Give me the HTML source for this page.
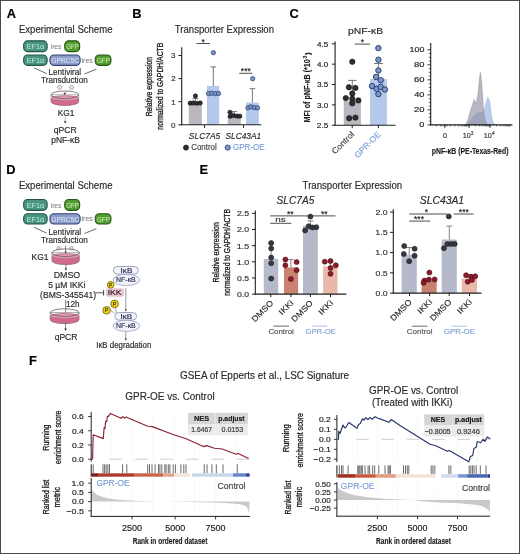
<!DOCTYPE html>
<html><head><meta charset="utf-8"><title>Figure</title>
<style>
html,body{margin:0;padding:0;background:#fff;}
body{width:520px;height:554px;overflow:hidden;}
svg{display:block;font-family:"Liberation Sans", sans-serif;}
svg{will-change:transform;}
</style></head>
<body>
<svg width="520" height="554" viewBox="0 0 520 554">
<rect width="520" height="554" fill="#fff"/>
<rect x="0.50" y="0.50" width="519.00" height="553.00" fill="none" stroke="#4a4a4a" stroke-width="1"/>
<text x="6.68" y="17.70" font-size="12.8" fill="#000" font-weight="bold" stroke="#000" stroke-width="0.16">A</text>
<text x="18.93" y="32.50" font-size="10.2" fill="#2a2a2a" textLength="93.57" lengthAdjust="spacingAndGlyphs" stroke="#2a2a2a" stroke-width="0.16">Experimental Scheme</text>
<rect x="23.65" y="40.85" width="23.50" height="10.80" fill="#4a9482" stroke="#23544a" stroke-width="1.1" rx="4.0"/>
<text x="35.51" y="49.30" font-size="7.5" fill="#bdeedb" text-anchor="middle" textLength="17.58" lengthAdjust="spacingAndGlyphs" stroke="none">EF1α</text>
<text x="50.78" y="48.80" font-size="7.4" fill="#707070" textLength="10.44" lengthAdjust="spacingAndGlyphs" stroke="none">ires</text>
<rect x="64.75" y="40.85" width="14.90" height="10.80" fill="#519c2e" stroke="#2a5418" stroke-width="1.1" rx="4.0"/>
<text x="72.51" y="49.30" font-size="7.5" fill="#d8f4c0" text-anchor="middle" textLength="12.63" lengthAdjust="spacingAndGlyphs" stroke="none">GFP</text>
<rect x="23.65" y="55.05" width="23.50" height="10.30" fill="#4a9482" stroke="#23544a" stroke-width="1.1" rx="4.0"/>
<text x="35.51" y="63.00" font-size="7.5" fill="#bdeedb" text-anchor="middle" textLength="17.58" lengthAdjust="spacingAndGlyphs" stroke="none">EF1α</text>
<rect x="49.95" y="55.05" width="30.20" height="10.30" fill="#8b9bc9" stroke="#34437a" stroke-width="1.1" rx="4.0"/>
<text x="65.31" y="63.00" font-size="7.5" fill="#e6ebfa" text-anchor="middle" textLength="28.19" lengthAdjust="spacingAndGlyphs" stroke="none">GPRC5C</text>
<text x="81.55" y="62.50" font-size="7.4" fill="#707070" textLength="11.19" lengthAdjust="spacingAndGlyphs" stroke="none">ires</text>
<rect x="95.25" y="55.05" width="15.70" height="10.30" fill="#519c2e" stroke="#2a5418" stroke-width="1.1" rx="4.0"/>
<text x="103.41" y="63.00" font-size="7.5" fill="#d8f4c0" text-anchor="middle" textLength="12.84" lengthAdjust="spacingAndGlyphs" stroke="none">GFP</text>
<line x1="34.20" y1="67.90" x2="46.60" y2="73.60" stroke="#444" stroke-width="0.8"/>
<line x1="84.40" y1="74.00" x2="96.40" y2="69.20" stroke="#444" stroke-width="0.8"/>
<text x="48.55" y="75.00" font-size="8.4" fill="#2a2a2a" textLength="32.58" lengthAdjust="spacingAndGlyphs" stroke="#2a2a2a" stroke-width="0.16">Lentiviral</text>
<text x="41.04" y="83.30" font-size="8.4" fill="#2a2a2a" textLength="46.68" lengthAdjust="spacingAndGlyphs" stroke="#2a2a2a" stroke-width="0.16">Transduction</text>
<circle cx="59.60" cy="87.20" r="1.9" fill="#f4e6ec" stroke="#9a8a92" stroke-width="0.6"/>
<line x1="61.50" y1="87.20" x2="62.60" y2="87.20" stroke="#9a8a92" stroke-width="0.5"/>
<line x1="60.55" y1="88.85" x2="61.10" y2="89.80" stroke="#9a8a92" stroke-width="0.5"/>
<line x1="58.65" y1="88.85" x2="58.10" y2="89.80" stroke="#9a8a92" stroke-width="0.5"/>
<line x1="57.70" y1="87.20" x2="56.60" y2="87.20" stroke="#9a8a92" stroke-width="0.5"/>
<line x1="58.65" y1="85.55" x2="58.10" y2="84.60" stroke="#9a8a92" stroke-width="0.5"/>
<line x1="60.55" y1="85.55" x2="61.10" y2="84.60" stroke="#9a8a92" stroke-width="0.5"/>
<circle cx="71.60" cy="87.40" r="1.9" fill="#f4e6ec" stroke="#9a8a92" stroke-width="0.6"/>
<line x1="73.50" y1="87.40" x2="74.60" y2="87.40" stroke="#9a8a92" stroke-width="0.5"/>
<line x1="72.55" y1="89.05" x2="73.10" y2="90.00" stroke="#9a8a92" stroke-width="0.5"/>
<line x1="70.65" y1="89.05" x2="70.10" y2="90.00" stroke="#9a8a92" stroke-width="0.5"/>
<line x1="69.70" y1="87.40" x2="68.60" y2="87.40" stroke="#9a8a92" stroke-width="0.5"/>
<line x1="70.65" y1="85.75" x2="70.10" y2="84.80" stroke="#9a8a92" stroke-width="0.5"/>
<line x1="72.55" y1="85.75" x2="73.10" y2="84.80" stroke="#9a8a92" stroke-width="0.5"/>
<path d="M51.10,94.80 L51.10,101.70 A13.80,3.80 0 0 0 78.70,101.70 L78.70,94.80 Z" fill="#ffffff" stroke="#707070" stroke-width="0.6"/>
<path d="M51.40,98.20 L51.40,101.70 A13.50,3.60 0 0 0 78.40,101.70 L78.40,98.20 A13.50,2.40 0 0 0 51.40,98.20 Z" fill="#cf6b8b" stroke="#a8486a" stroke-width="0.5"/>
<ellipse cx="64.90" cy="98.20" rx="13.30" ry="2.20" fill="#e3a0b6" stroke="#b86080" stroke-width="0.4"/>
<ellipse cx="64.90" cy="94.80" rx="13.80" ry="3.80" fill="none" stroke="#5a5a5a" stroke-width="0.75"/>
<circle cx="64.60" cy="93.60" r="0.9" fill="#111"/>
<line x1="64.60" y1="93.60" x2="67.50" y2="91.20" stroke="#666" stroke-width="0.5"/>
<text x="57.73" y="115.80" font-size="8.4" fill="#2a2a2a" textLength="16.78" lengthAdjust="spacingAndGlyphs" stroke="#2a2a2a" stroke-width="0.16">KG1</text>
<line x1="65.20" y1="117.30" x2="65.20" y2="121.50" stroke="#777" stroke-width="0.6"/>
<path d="M63.9,121.3 L66.5,121.3 L65.2,123.4 Z" fill="#222"/>
<text x="53.75" y="133.20" font-size="8.4" fill="#2a2a2a" textLength="23.03" lengthAdjust="spacingAndGlyphs" stroke="#2a2a2a" stroke-width="0.16">qPCR</text>
<text x="51.27" y="143.30" font-size="8.4" fill="#2a2a2a" textLength="28.77" lengthAdjust="spacingAndGlyphs" stroke="#2a2a2a" stroke-width="0.16">pNF-κB</text>
<text x="132.17" y="17.70" font-size="12.8" fill="#000" font-weight="bold" stroke="#000" stroke-width="0.16">B</text>
<text x="174.81" y="32.60" font-size="10.2" fill="#2a2a2a" textLength="99.20" lengthAdjust="spacingAndGlyphs" stroke="#2a2a2a" stroke-width="0.16">Transporter Expression</text>
<rect x="188.80" y="103.09" width="13.00" height="21.71" fill="#bab7bf"/>
<rect x="207.00" y="85.99" width="12.20" height="38.81" fill="#b4c8ec"/>
<rect x="227.70" y="115.56" width="13.10" height="9.24" fill="#bab7bf"/>
<rect x="246.00" y="102.62" width="12.80" height="22.18" fill="#b4c8ec"/>
<line x1="213.30" y1="85.99" x2="213.30" y2="66.90" stroke="#555" stroke-width="0.8"/>
<line x1="210.40" y1="66.90" x2="216.20" y2="66.90" stroke="#555" stroke-width="0.8"/>
<line x1="252.40" y1="102.62" x2="252.40" y2="88.70" stroke="#555" stroke-width="0.8"/>
<line x1="249.50" y1="88.70" x2="255.30" y2="88.70" stroke="#555" stroke-width="0.8"/>
<line x1="195.40" y1="103.09" x2="195.40" y2="98.60" stroke="#555" stroke-width="0.8"/>
<line x1="192.50" y1="98.60" x2="198.30" y2="98.60" stroke="#555" stroke-width="0.8"/>
<line x1="234.20" y1="115.56" x2="234.20" y2="111.60" stroke="#555" stroke-width="0.8"/>
<line x1="231.30" y1="111.60" x2="237.10" y2="111.60" stroke="#555" stroke-width="0.8"/>
<line x1="181.70" y1="47.30" x2="181.70" y2="125.20" stroke="#1e1e1e" stroke-width="1.1"/>
<line x1="181.20" y1="124.80" x2="261.30" y2="124.80" stroke="#1e1e1e" stroke-width="1.1"/>
<line x1="178.40" y1="124.80" x2="181.70" y2="124.80" stroke="#1e1e1e" stroke-width="1"/>
<text x="175.51" y="127.65" font-size="8.0" fill="#333" text-anchor="end" stroke="#333" stroke-width="0.16">0</text>
<line x1="178.40" y1="101.70" x2="181.70" y2="101.70" stroke="#1e1e1e" stroke-width="1"/>
<text x="175.59" y="104.55" font-size="8.0" fill="#333" text-anchor="end" stroke="#333" stroke-width="0.16">1</text>
<line x1="178.40" y1="78.60" x2="181.70" y2="78.60" stroke="#1e1e1e" stroke-width="1"/>
<text x="175.59" y="81.45" font-size="8.0" fill="#333" text-anchor="end" stroke="#333" stroke-width="0.16">2</text>
<line x1="178.40" y1="55.50" x2="181.70" y2="55.50" stroke="#1e1e1e" stroke-width="1"/>
<text x="175.55" y="58.35" font-size="8.0" fill="#333" text-anchor="end" stroke="#333" stroke-width="0.16">3</text>
<line x1="204.60" y1="124.80" x2="204.60" y2="127.80" stroke="#1e1e1e" stroke-width="1"/>
<line x1="243.50" y1="124.80" x2="243.50" y2="127.80" stroke="#1e1e1e" stroke-width="1"/>
<circle cx="195.40" cy="96.00" r="2.15" fill="#2e2e34" stroke="#111" stroke-width="0.6"/>
<circle cx="190.20" cy="103.20" r="2.15" fill="#2e2e34" stroke="#111" stroke-width="0.6"/>
<circle cx="193.30" cy="103.00" r="2.15" fill="#2e2e34" stroke="#111" stroke-width="0.6"/>
<circle cx="196.80" cy="103.30" r="2.15" fill="#2e2e34" stroke="#111" stroke-width="0.6"/>
<circle cx="200.20" cy="103.00" r="2.15" fill="#2e2e34" stroke="#111" stroke-width="0.6"/>
<circle cx="213.40" cy="52.70" r="2.15" fill="#7d97c6" stroke="#2a4178" stroke-width="0.8"/>
<circle cx="208.50" cy="93.60" r="2.15" fill="#7d97c6" stroke="#2a4178" stroke-width="0.8"/>
<circle cx="211.70" cy="93.30" r="2.15" fill="#7d97c6" stroke="#2a4178" stroke-width="0.8"/>
<circle cx="215.20" cy="93.60" r="2.15" fill="#7d97c6" stroke="#2a4178" stroke-width="0.8"/>
<circle cx="218.50" cy="93.50" r="2.15" fill="#7d97c6" stroke="#2a4178" stroke-width="0.8"/>
<circle cx="230.00" cy="112.30" r="2.15" fill="#2e2e34" stroke="#111" stroke-width="0.6"/>
<circle cx="230.20" cy="116.30" r="2.15" fill="#2e2e34" stroke="#111" stroke-width="0.6"/>
<circle cx="233.60" cy="115.60" r="2.15" fill="#2e2e34" stroke="#111" stroke-width="0.6"/>
<circle cx="237.00" cy="116.10" r="2.15" fill="#2e2e34" stroke="#111" stroke-width="0.6"/>
<circle cx="239.80" cy="116.20" r="2.15" fill="#2e2e34" stroke="#111" stroke-width="0.6"/>
<circle cx="252.70" cy="78.70" r="2.15" fill="#7d97c6" stroke="#2a4178" stroke-width="0.8"/>
<circle cx="247.90" cy="107.80" r="2.15" fill="#7d97c6" stroke="#2a4178" stroke-width="0.8"/>
<circle cx="250.90" cy="106.80" r="2.15" fill="#7d97c6" stroke="#2a4178" stroke-width="0.8"/>
<circle cx="254.20" cy="107.60" r="2.15" fill="#7d97c6" stroke="#2a4178" stroke-width="0.8"/>
<circle cx="257.50" cy="107.80" r="2.15" fill="#7d97c6" stroke="#2a4178" stroke-width="0.8"/>
<line x1="196.50" y1="43.50" x2="210.00" y2="43.50" stroke="#2e2e2e" stroke-width="0.85"/>
<text x="203.20" y="44.60" font-size="8.5" fill="#222" text-anchor="middle" stroke="#222" stroke-width="0.16">*</text>
<line x1="239.20" y1="73.30" x2="252.30" y2="73.30" stroke="#2e2e2e" stroke-width="0.85"/>
<text x="245.80" y="74.40" font-size="8.5" fill="#222" text-anchor="middle" stroke="#222" stroke-width="0.16">***</text>
<text x="152.40" y="116.35" font-size="8.5" fill="#1a1a1a" textLength="59.48" lengthAdjust="spacingAndGlyphs" transform="rotate(-90 152.40 116.35)" stroke="#1a1a1a" stroke-width="0.3">Relative expression</text>
<text x="163.40" y="129.64" font-size="8.5" fill="#1a1a1a" textLength="86.90" lengthAdjust="spacingAndGlyphs" transform="rotate(-90 163.40 129.64)" stroke="#1a1a1a" stroke-width="0.3">normalized to GAPDH/ACTB</text>
<text x="188.87" y="138.80" font-size="8.5" fill="#2a2a2a" font-style="italic" textLength="31.31" lengthAdjust="spacingAndGlyphs" stroke="#2a2a2a" stroke-width="0.16">SLC7A5</text>
<text x="225.57" y="138.80" font-size="8.5" fill="#2a2a2a" font-style="italic" textLength="35.52" lengthAdjust="spacingAndGlyphs" stroke="#2a2a2a" stroke-width="0.16">SLC43A1</text>
<circle cx="186.00" cy="147.60" r="2.6" fill="#2e2e34" stroke="#111" stroke-width="0.6"/>
<text x="191.20" y="150.40" font-size="8.2" fill="#444" textLength="25.50" lengthAdjust="spacingAndGlyphs" stroke="#444" stroke-width="0.16">Control</text>
<circle cx="227.70" cy="147.60" r="2.6" fill="#7d97c6" stroke="#2a4178" stroke-width="0.8"/>
<text x="233.10" y="150.40" font-size="8.2" fill="#7ea0d6" textLength="31.44" lengthAdjust="spacingAndGlyphs" stroke="#7ea0d6" stroke-width="0.16">GPR-OE</text>
<text x="289.49" y="17.70" font-size="12.8" fill="#000" font-weight="bold" stroke="#000" stroke-width="0.16">C</text>
<text x="348.05" y="33.50" font-size="8.7" fill="#2a2a2a" textLength="35.08" lengthAdjust="spacingAndGlyphs" stroke="#2a2a2a" stroke-width="0.16">pNF-κB</text>
<rect x="343.80" y="100.70" width="17.10" height="24.50" fill="#bab7bf"/>
<rect x="370.10" y="78.90" width="16.80" height="46.30" fill="#b4c8ec"/>
<line x1="352.30" y1="100.70" x2="352.30" y2="80.40" stroke="#555" stroke-width="0.8"/>
<line x1="348.00" y1="80.40" x2="356.60" y2="80.40" stroke="#555" stroke-width="0.8"/>
<line x1="378.40" y1="78.90" x2="378.40" y2="63.50" stroke="#555" stroke-width="0.8"/>
<line x1="374.00" y1="63.50" x2="383.00" y2="63.50" stroke="#555" stroke-width="0.8"/>
<circle cx="352.30" cy="61.80" r="2.7" fill="#2e2e34" stroke="#111" stroke-width="0.6"/>
<circle cx="348.90" cy="87.30" r="2.7" fill="#2e2e34" stroke="#111" stroke-width="0.6"/>
<circle cx="355.40" cy="87.90" r="2.7" fill="#2e2e34" stroke="#111" stroke-width="0.6"/>
<circle cx="352.30" cy="93.50" r="2.7" fill="#2e2e34" stroke="#111" stroke-width="0.6"/>
<circle cx="345.80" cy="98.10" r="2.7" fill="#2e2e34" stroke="#111" stroke-width="0.6"/>
<circle cx="352.30" cy="98.80" r="2.7" fill="#2e2e34" stroke="#111" stroke-width="0.6"/>
<circle cx="358.40" cy="100.40" r="2.7" fill="#2e2e34" stroke="#111" stroke-width="0.6"/>
<circle cx="352.30" cy="103.30" r="2.7" fill="#2e2e34" stroke="#111" stroke-width="0.6"/>
<circle cx="349.20" cy="118.30" r="2.7" fill="#2e2e34" stroke="#111" stroke-width="0.6"/>
<circle cx="355.40" cy="117.60" r="2.7" fill="#2e2e34" stroke="#111" stroke-width="0.6"/>
<circle cx="378.40" cy="48.10" r="2.7" fill="#7d97c6" stroke="#2a4178" stroke-width="1.0"/>
<circle cx="378.40" cy="59.70" r="2.7" fill="#7d97c6" stroke="#2a4178" stroke-width="1.0"/>
<circle cx="378.40" cy="70.40" r="2.7" fill="#7d97c6" stroke="#2a4178" stroke-width="1.0"/>
<circle cx="376.10" cy="76.90" r="2.7" fill="#7d97c6" stroke="#2a4178" stroke-width="1.0"/>
<circle cx="380.70" cy="80.20" r="2.7" fill="#7d97c6" stroke="#2a4178" stroke-width="1.0"/>
<circle cx="372.00" cy="86.10" r="2.7" fill="#7d97c6" stroke="#2a4178" stroke-width="1.0"/>
<circle cx="376.60" cy="88.80" r="2.7" fill="#7d97c6" stroke="#2a4178" stroke-width="1.0"/>
<circle cx="380.70" cy="86.90" r="2.7" fill="#7d97c6" stroke="#2a4178" stroke-width="1.0"/>
<circle cx="384.90" cy="89.50" r="2.7" fill="#7d97c6" stroke="#2a4178" stroke-width="1.0"/>
<circle cx="378.40" cy="94.10" r="2.7" fill="#7d97c6" stroke="#2a4178" stroke-width="1.0"/>
<line x1="335.10" y1="41.50" x2="335.10" y2="125.60" stroke="#1e1e1e" stroke-width="1.1"/>
<line x1="334.60" y1="125.20" x2="395.60" y2="125.20" stroke="#1e1e1e" stroke-width="1.1"/>
<line x1="331.90" y1="125.20" x2="335.10" y2="125.20" stroke="#1e1e1e" stroke-width="1"/>
<text x="328.33" y="127.90" font-size="7.6" fill="#222" text-anchor="end" textLength="11.44" lengthAdjust="spacingAndGlyphs" stroke="#222" stroke-width="0.16">2.5</text>
<line x1="331.90" y1="104.85" x2="335.10" y2="104.85" stroke="#1e1e1e" stroke-width="1"/>
<text x="328.31" y="107.55" font-size="7.6" fill="#222" text-anchor="end" textLength="11.31" lengthAdjust="spacingAndGlyphs" stroke="#222" stroke-width="0.16">3.0</text>
<line x1="331.90" y1="84.50" x2="335.10" y2="84.50" stroke="#1e1e1e" stroke-width="1"/>
<text x="328.33" y="87.20" font-size="7.6" fill="#222" text-anchor="end" textLength="11.33" lengthAdjust="spacingAndGlyphs" stroke="#222" stroke-width="0.16">3.5</text>
<line x1="331.90" y1="64.15" x2="335.10" y2="64.15" stroke="#1e1e1e" stroke-width="1"/>
<text x="328.30" y="66.85" font-size="7.6" fill="#222" text-anchor="end" textLength="11.18" lengthAdjust="spacingAndGlyphs" stroke="#222" stroke-width="0.16">4.0</text>
<line x1="331.90" y1="43.80" x2="335.10" y2="43.80" stroke="#1e1e1e" stroke-width="1"/>
<text x="328.32" y="46.50" font-size="7.6" fill="#222" text-anchor="end" textLength="11.21" lengthAdjust="spacingAndGlyphs" stroke="#222" stroke-width="0.16">4.5</text>
<line x1="352.20" y1="125.20" x2="352.20" y2="128.20" stroke="#1e1e1e" stroke-width="1"/>
<line x1="378.40" y1="125.20" x2="378.40" y2="128.20" stroke="#1e1e1e" stroke-width="1"/>
<line x1="354.60" y1="44.10" x2="370.00" y2="44.10" stroke="#2e2e2e" stroke-width="0.85"/>
<text x="362.30" y="45.20" font-size="8.5" fill="#222" text-anchor="middle" stroke="#222" stroke-width="0.16">*</text>
<text x="310.20" y="122.46" font-size="9.3" fill="#1e1e1e" font-weight="bold" textLength="63.23" lengthAdjust="spacingAndGlyphs" stroke="#1e1e1e" stroke-width="0.16" transform="rotate(-90 310.20 122.46)">MFI of pNF-κB (*10</text>
<text x="307.20" y="58.41" font-size="5.0" fill="#1e1e1e" font-weight="bold" stroke="#1e1e1e" stroke-width="0.16" transform="rotate(-90 307.20 58.41)">3</text>
<text x="309.80" y="55.00" font-size="7.8" fill="#1e1e1e" font-weight="bold" stroke="#1e1e1e" stroke-width="0.16" transform="rotate(-90 309.80 55.00)">)</text>
<text x="354.89" y="134.81" font-size="8.2" fill="#444" text-anchor="end" textLength="27.99" lengthAdjust="spacingAndGlyphs" stroke="#444" stroke-width="0.16" transform="rotate(-45 354.89 134.81)">Control</text>
<text x="381.25" y="134.95" font-size="8.2" fill="#7ea0d6" text-anchor="end" textLength="33.28" lengthAdjust="spacingAndGlyphs" stroke="#7ea0d6" stroke-width="0.16" transform="rotate(-45 381.25 134.95)">GPR-OE</text>
<path d="M466.50,124.90 L470.00,121.00 L474.00,115.50 L478.00,113.00 L482.00,112.00 L484.20,110.00 L485.80,103.50 L487.90,97.00 L489.80,102.00 L490.60,108.00 L491.60,116.00 L493.20,122.50 L495.00,124.90 Z" fill="#b9cdea" stroke="#9fb5da" stroke-width="0.5"/>
<path d="M465.50,124.90 L467.50,121.00 L470.00,112.40 L472.60,104.30 L474.30,99.50 L476.20,104.50 L478.30,92.00 L479.50,79.00 L480.40,72.50 L481.60,82.00 L482.60,96.00 L483.30,107.50 L484.40,116.50 L486.00,122.50 L488.00,124.90 Z" fill="#908aa0" stroke="#8a8498" stroke-width="0.5" fill-opacity="0.62"/>
<line x1="430.70" y1="43.10" x2="430.70" y2="125.40" stroke="#1e1e1e" stroke-width="1.1"/>
<line x1="430.20" y1="124.90" x2="512.40" y2="124.90" stroke="#1e1e1e" stroke-width="1.1"/>
<line x1="427.50" y1="124.90" x2="430.70" y2="124.90" stroke="#1e1e1e" stroke-width="0.9"/>
<text x="424.35" y="127.45" font-size="7.3" fill="#222" text-anchor="end" textLength="5.10" lengthAdjust="spacingAndGlyphs" stroke="#222" stroke-width="0.16">0</text>
<line x1="427.50" y1="109.88" x2="430.70" y2="109.88" stroke="#1e1e1e" stroke-width="0.9"/>
<text x="424.37" y="112.43" font-size="7.3" fill="#222" text-anchor="end" textLength="10.44" lengthAdjust="spacingAndGlyphs" stroke="#222" stroke-width="0.16">20</text>
<line x1="427.50" y1="94.86" x2="430.70" y2="94.86" stroke="#1e1e1e" stroke-width="0.9"/>
<text x="424.36" y="97.41" font-size="7.3" fill="#222" text-anchor="end" textLength="10.17" lengthAdjust="spacingAndGlyphs" stroke="#222" stroke-width="0.16">40</text>
<line x1="427.50" y1="79.84" x2="430.70" y2="79.84" stroke="#1e1e1e" stroke-width="0.9"/>
<text x="424.37" y="82.39" font-size="7.3" fill="#222" text-anchor="end" textLength="10.44" lengthAdjust="spacingAndGlyphs" stroke="#222" stroke-width="0.16">60</text>
<line x1="427.50" y1="64.82" x2="430.70" y2="64.82" stroke="#1e1e1e" stroke-width="0.9"/>
<text x="424.37" y="67.37" font-size="7.3" fill="#222" text-anchor="end" textLength="10.37" lengthAdjust="spacingAndGlyphs" stroke="#222" stroke-width="0.16">80</text>
<line x1="427.50" y1="49.80" x2="430.70" y2="49.80" stroke="#1e1e1e" stroke-width="0.9"/>
<text x="424.34" y="52.35" font-size="7.3" fill="#222" text-anchor="end" textLength="14.81" lengthAdjust="spacingAndGlyphs" stroke="#222" stroke-width="0.16">100</text>
<line x1="428.80" y1="121.15" x2="430.70" y2="121.15" stroke="#1e1e1e" stroke-width="0.7"/>
<line x1="428.80" y1="117.39" x2="430.70" y2="117.39" stroke="#1e1e1e" stroke-width="0.7"/>
<line x1="428.80" y1="113.64" x2="430.70" y2="113.64" stroke="#1e1e1e" stroke-width="0.7"/>
<line x1="428.80" y1="106.12" x2="430.70" y2="106.12" stroke="#1e1e1e" stroke-width="0.7"/>
<line x1="428.80" y1="102.37" x2="430.70" y2="102.37" stroke="#1e1e1e" stroke-width="0.7"/>
<line x1="428.80" y1="98.62" x2="430.70" y2="98.62" stroke="#1e1e1e" stroke-width="0.7"/>
<line x1="428.80" y1="91.11" x2="430.70" y2="91.11" stroke="#1e1e1e" stroke-width="0.7"/>
<line x1="428.80" y1="87.35" x2="430.70" y2="87.35" stroke="#1e1e1e" stroke-width="0.7"/>
<line x1="428.80" y1="83.59" x2="430.70" y2="83.59" stroke="#1e1e1e" stroke-width="0.7"/>
<line x1="428.80" y1="76.09" x2="430.70" y2="76.09" stroke="#1e1e1e" stroke-width="0.7"/>
<line x1="428.80" y1="72.33" x2="430.70" y2="72.33" stroke="#1e1e1e" stroke-width="0.7"/>
<line x1="428.80" y1="68.58" x2="430.70" y2="68.58" stroke="#1e1e1e" stroke-width="0.7"/>
<line x1="428.80" y1="61.07" x2="430.70" y2="61.07" stroke="#1e1e1e" stroke-width="0.7"/>
<line x1="428.80" y1="57.31" x2="430.70" y2="57.31" stroke="#1e1e1e" stroke-width="0.7"/>
<line x1="428.80" y1="53.56" x2="430.70" y2="53.56" stroke="#1e1e1e" stroke-width="0.7"/>
<line x1="436.50" y1="124.90" x2="436.50" y2="126.50" stroke="#1e1e1e" stroke-width="0.6"/>
<line x1="440.50" y1="124.90" x2="440.50" y2="126.50" stroke="#1e1e1e" stroke-width="0.6"/>
<line x1="443.00" y1="124.90" x2="443.00" y2="126.50" stroke="#1e1e1e" stroke-width="0.6"/>
<line x1="444.90" y1="124.90" x2="444.90" y2="126.50" stroke="#1e1e1e" stroke-width="0.6"/>
<line x1="447.00" y1="124.90" x2="447.00" y2="126.50" stroke="#1e1e1e" stroke-width="0.6"/>
<line x1="450.50" y1="124.90" x2="450.50" y2="126.50" stroke="#1e1e1e" stroke-width="0.6"/>
<line x1="455.00" y1="124.90" x2="455.00" y2="126.50" stroke="#1e1e1e" stroke-width="0.6"/>
<line x1="458.50" y1="124.90" x2="458.50" y2="126.50" stroke="#1e1e1e" stroke-width="0.6"/>
<line x1="461.00" y1="124.90" x2="461.00" y2="126.50" stroke="#1e1e1e" stroke-width="0.6"/>
<line x1="462.80" y1="124.90" x2="462.80" y2="126.50" stroke="#1e1e1e" stroke-width="0.6"/>
<line x1="464.30" y1="124.90" x2="464.30" y2="126.50" stroke="#1e1e1e" stroke-width="0.6"/>
<line x1="465.40" y1="124.90" x2="465.40" y2="126.50" stroke="#1e1e1e" stroke-width="0.6"/>
<line x1="466.30" y1="124.90" x2="466.30" y2="126.50" stroke="#1e1e1e" stroke-width="0.6"/>
<line x1="467.00" y1="124.90" x2="467.00" y2="126.50" stroke="#1e1e1e" stroke-width="0.6"/>
<line x1="469.00" y1="124.90" x2="469.00" y2="126.50" stroke="#1e1e1e" stroke-width="0.6"/>
<line x1="475.50" y1="124.90" x2="475.50" y2="126.50" stroke="#1e1e1e" stroke-width="0.6"/>
<line x1="479.30" y1="124.90" x2="479.30" y2="126.50" stroke="#1e1e1e" stroke-width="0.6"/>
<line x1="482.00" y1="124.90" x2="482.00" y2="126.50" stroke="#1e1e1e" stroke-width="0.6"/>
<line x1="484.00" y1="124.90" x2="484.00" y2="126.50" stroke="#1e1e1e" stroke-width="0.6"/>
<line x1="485.60" y1="124.90" x2="485.60" y2="126.50" stroke="#1e1e1e" stroke-width="0.6"/>
<line x1="486.90" y1="124.90" x2="486.90" y2="126.50" stroke="#1e1e1e" stroke-width="0.6"/>
<line x1="488.00" y1="124.90" x2="488.00" y2="126.50" stroke="#1e1e1e" stroke-width="0.6"/>
<line x1="489.00" y1="124.90" x2="489.00" y2="126.50" stroke="#1e1e1e" stroke-width="0.6"/>
<line x1="490.00" y1="124.90" x2="490.00" y2="126.50" stroke="#1e1e1e" stroke-width="0.6"/>
<line x1="496.50" y1="124.90" x2="496.50" y2="126.50" stroke="#1e1e1e" stroke-width="0.6"/>
<line x1="500.30" y1="124.90" x2="500.30" y2="126.50" stroke="#1e1e1e" stroke-width="0.6"/>
<line x1="503.00" y1="124.90" x2="503.00" y2="126.50" stroke="#1e1e1e" stroke-width="0.6"/>
<line x1="505.00" y1="124.90" x2="505.00" y2="126.50" stroke="#1e1e1e" stroke-width="0.6"/>
<line x1="506.60" y1="124.90" x2="506.60" y2="126.50" stroke="#1e1e1e" stroke-width="0.6"/>
<line x1="507.90" y1="124.90" x2="507.90" y2="126.50" stroke="#1e1e1e" stroke-width="0.6"/>
<line x1="509.00" y1="124.90" x2="509.00" y2="126.50" stroke="#1e1e1e" stroke-width="0.6"/>
<line x1="510.00" y1="124.90" x2="510.00" y2="126.50" stroke="#1e1e1e" stroke-width="0.6"/>
<line x1="444.90" y1="124.90" x2="444.90" y2="127.90" stroke="#1e1e1e" stroke-width="0.9"/>
<line x1="469.00" y1="124.90" x2="469.00" y2="127.90" stroke="#1e1e1e" stroke-width="0.9"/>
<line x1="490.00" y1="124.90" x2="490.00" y2="127.90" stroke="#1e1e1e" stroke-width="0.9"/>
<text x="444.90" y="138.30" font-size="7.2" fill="#333" text-anchor="middle" stroke="#333" stroke-width="0.16">0</text>
<text x="462.66" y="138.30" font-size="7.2" fill="#333" stroke="#333" stroke-width="0.16">10</text>
<text x="470.72" y="134.90" font-size="4.8" fill="#333" stroke="#333" stroke-width="0.16">3</text>
<text x="483.86" y="138.30" font-size="7.2" fill="#333" stroke="#333" stroke-width="0.16">10</text>
<text x="491.99" y="134.90" font-size="4.8" fill="#333" stroke="#333" stroke-width="0.16">4</text>
<text x="431.85" y="153.70" font-size="9.3" fill="#1e1e1e" font-weight="bold" textLength="76.58" lengthAdjust="spacingAndGlyphs" stroke="#1e1e1e" stroke-width="0.16">pNF-κB (PE-Texas-Red)</text>
<text x="6.17" y="173.80" font-size="12.8" fill="#000" font-weight="bold" stroke="#000" stroke-width="0.16">D</text>
<text x="18.93" y="189.10" font-size="10.2" fill="#2a2a2a" textLength="93.57" lengthAdjust="spacingAndGlyphs" stroke="#2a2a2a" stroke-width="0.16">Experimental Scheme</text>
<rect x="23.65" y="199.55" width="23.50" height="10.80" fill="#4a9482" stroke="#23544a" stroke-width="1.1" rx="4.0"/>
<text x="35.51" y="208.00" font-size="7.5" fill="#bdeedb" text-anchor="middle" textLength="17.58" lengthAdjust="spacingAndGlyphs" stroke="none">EF1α</text>
<text x="50.78" y="207.50" font-size="7.4" fill="#707070" textLength="10.44" lengthAdjust="spacingAndGlyphs" stroke="none">ires</text>
<rect x="64.75" y="199.55" width="14.90" height="10.80" fill="#519c2e" stroke="#2a5418" stroke-width="1.1" rx="4.0"/>
<text x="72.51" y="208.00" font-size="7.5" fill="#d8f4c0" text-anchor="middle" textLength="12.63" lengthAdjust="spacingAndGlyphs" stroke="none">GFP</text>
<rect x="23.65" y="213.75" width="23.50" height="10.30" fill="#4a9482" stroke="#23544a" stroke-width="1.1" rx="4.0"/>
<text x="35.51" y="221.70" font-size="7.5" fill="#bdeedb" text-anchor="middle" textLength="17.58" lengthAdjust="spacingAndGlyphs" stroke="none">EF1α</text>
<rect x="49.95" y="213.75" width="30.20" height="10.30" fill="#8b9bc9" stroke="#34437a" stroke-width="1.1" rx="4.0"/>
<text x="65.31" y="221.70" font-size="7.5" fill="#e6ebfa" text-anchor="middle" textLength="28.19" lengthAdjust="spacingAndGlyphs" stroke="none">GPRC5C</text>
<text x="81.55" y="221.20" font-size="7.4" fill="#707070" textLength="11.19" lengthAdjust="spacingAndGlyphs" stroke="none">ires</text>
<rect x="95.25" y="213.75" width="15.70" height="10.30" fill="#519c2e" stroke="#2a5418" stroke-width="1.1" rx="4.0"/>
<text x="103.41" y="221.70" font-size="7.5" fill="#d8f4c0" text-anchor="middle" textLength="12.84" lengthAdjust="spacingAndGlyphs" stroke="none">GFP</text>
<line x1="34.20" y1="227.40" x2="46.60" y2="233.10" stroke="#444" stroke-width="0.8"/>
<line x1="84.40" y1="233.50" x2="96.40" y2="228.70" stroke="#444" stroke-width="0.8"/>
<text x="48.55" y="234.50" font-size="8.4" fill="#2a2a2a" textLength="32.58" lengthAdjust="spacingAndGlyphs" stroke="#2a2a2a" stroke-width="0.16">Lentiviral</text>
<text x="41.04" y="242.80" font-size="8.4" fill="#2a2a2a" textLength="46.68" lengthAdjust="spacingAndGlyphs" stroke="#2a2a2a" stroke-width="0.16">Transduction</text>
<circle cx="58.80" cy="248.20" r="1.6" fill="#f4e6ec" stroke="#9a8a92" stroke-width="0.6"/>
<line x1="60.40" y1="248.20" x2="61.50" y2="248.20" stroke="#9a8a92" stroke-width="0.5"/>
<line x1="59.60" y1="249.59" x2="60.15" y2="250.54" stroke="#9a8a92" stroke-width="0.5"/>
<line x1="58.00" y1="249.59" x2="57.45" y2="250.54" stroke="#9a8a92" stroke-width="0.5"/>
<line x1="57.20" y1="248.20" x2="56.10" y2="248.20" stroke="#9a8a92" stroke-width="0.5"/>
<line x1="58.00" y1="246.81" x2="57.45" y2="245.86" stroke="#9a8a92" stroke-width="0.5"/>
<line x1="59.60" y1="246.81" x2="60.15" y2="245.86" stroke="#9a8a92" stroke-width="0.5"/>
<circle cx="71.40" cy="248.20" r="1.6" fill="#f4e6ec" stroke="#9a8a92" stroke-width="0.6"/>
<line x1="73.00" y1="248.20" x2="74.10" y2="248.20" stroke="#9a8a92" stroke-width="0.5"/>
<line x1="72.20" y1="249.59" x2="72.75" y2="250.54" stroke="#9a8a92" stroke-width="0.5"/>
<line x1="70.60" y1="249.59" x2="70.05" y2="250.54" stroke="#9a8a92" stroke-width="0.5"/>
<line x1="69.80" y1="248.20" x2="68.70" y2="248.20" stroke="#9a8a92" stroke-width="0.5"/>
<line x1="70.60" y1="246.81" x2="70.05" y2="245.86" stroke="#9a8a92" stroke-width="0.5"/>
<line x1="72.20" y1="246.81" x2="72.75" y2="245.86" stroke="#9a8a92" stroke-width="0.5"/>
<path d="M51.90,252.70 L51.90,260.80 A13.70,3.80 0 0 0 79.30,260.80 L79.30,252.70 Z" fill="#ffffff" stroke="#707070" stroke-width="0.6"/>
<path d="M52.20,256.10 L52.20,260.80 A13.40,3.60 0 0 0 79.00,260.80 L79.00,256.10 A13.40,2.40 0 0 0 52.20,256.10 Z" fill="#cf6b8b" stroke="#a8486a" stroke-width="0.5"/>
<ellipse cx="65.60" cy="256.10" rx="13.20" ry="2.20" fill="#e3a0b6" stroke="#b86080" stroke-width="0.4"/>
<ellipse cx="65.60" cy="252.70" rx="13.70" ry="3.80" fill="none" stroke="#5a5a5a" stroke-width="0.75"/>
<line x1="65.60" y1="245.50" x2="65.60" y2="252.50" stroke="#333" stroke-width="0.6"/>
<path d="M64.6,251.6 L66.6,251.6 L65.6,253.6 Z" fill="#222"/>
<text x="31.52" y="260.00" font-size="8.4" fill="#2a2a2a" textLength="16.99" lengthAdjust="spacingAndGlyphs" stroke="#2a2a2a" stroke-width="0.16">KG1</text>
<line x1="65.90" y1="264.60" x2="65.90" y2="269.00" stroke="#333" stroke-width="0.6"/>
<path d="M64.7,268.6 L67.1,268.6 L65.9,270.8 Z" fill="#222"/>
<text x="53.69" y="278.20" font-size="8.4" fill="#2a2a2a" textLength="26.53" lengthAdjust="spacingAndGlyphs" stroke="#2a2a2a" stroke-width="0.16">DMSO</text>
<text x="48.16" y="288.10" font-size="8.4" fill="#2a2a2a" textLength="37.22" lengthAdjust="spacingAndGlyphs" stroke="#2a2a2a" stroke-width="0.16">5 µM IKKi</text>
<text x="40.08" y="297.60" font-size="8.4" fill="#2a2a2a" textLength="56.04" lengthAdjust="spacingAndGlyphs" stroke="#2a2a2a" stroke-width="0.16">(BMS-345541)</text>
<line x1="95.60" y1="292.80" x2="103.60" y2="292.80" stroke="#333" stroke-width="0.8"/>
<line x1="103.60" y1="290.00" x2="103.60" y2="295.60" stroke="#333" stroke-width="0.9"/>
<line x1="65.60" y1="299.50" x2="65.60" y2="312.50" stroke="#333" stroke-width="0.6"/>
<text x="65.89" y="307.00" font-size="8.4" fill="#2a2a2a" textLength="13.63" lengthAdjust="spacingAndGlyphs" stroke="#2a2a2a" stroke-width="0.16">12h</text>
<path d="M50.20,312.60 L50.20,319.80 A14.40,3.80 0 0 0 79.00,319.80 L79.00,312.60 Z" fill="#ffffff" stroke="#707070" stroke-width="0.6"/>
<path d="M50.50,316.00 L50.50,319.80 A14.10,3.60 0 0 0 78.70,319.80 L78.70,316.00 A14.10,2.40 0 0 0 50.50,316.00 Z" fill="#cf6b8b" stroke="#a8486a" stroke-width="0.5"/>
<ellipse cx="64.60" cy="316.00" rx="13.90" ry="2.20" fill="#e3a0b6" stroke="#b86080" stroke-width="0.4"/>
<ellipse cx="64.60" cy="312.60" rx="14.40" ry="3.80" fill="none" stroke="#5a5a5a" stroke-width="0.75"/>
<line x1="65.60" y1="323.30" x2="65.60" y2="329.00" stroke="#333" stroke-width="0.6"/>
<path d="M64.4,328.6 L66.8,328.6 L65.6,330.9 Z" fill="#222"/>
<text x="54.66" y="339.60" font-size="8.4" fill="#2a2a2a" textLength="22.83" lengthAdjust="spacingAndGlyphs" stroke="#2a2a2a" stroke-width="0.16">qPCR</text>
<rect x="113.30" y="266.50" width="25.00" height="7.60" fill="#f3f3fb" stroke="#7a80a6" stroke-width="0.7" rx="3.8"/>
<text x="126.45" y="272.50" font-size="6.3" fill="#2a3050" text-anchor="middle" textLength="11.76" lengthAdjust="spacingAndGlyphs" stroke="#2a3050" stroke-width="0.16">IκB</text>
<ellipse cx="126.4" cy="279.90" rx="13.4" ry="5.6" fill="#f3f3fb" stroke="#8a90c0" stroke-width="0.7"/>
<text x="125.91" y="282.30" font-size="6.6" fill="#2a3050" text-anchor="middle" textLength="19.62" lengthAdjust="spacingAndGlyphs" stroke="#2a3050" stroke-width="0.16">NF-κB</text>
<rect x="114.90" y="312.50" width="21.70" height="7.60" fill="#f3f3fb" stroke="#7a80a6" stroke-width="0.7" rx="3.8"/>
<text x="126.40" y="318.50" font-size="6.3" fill="#2a3050" text-anchor="middle" textLength="11.76" lengthAdjust="spacingAndGlyphs" stroke="#2a3050" stroke-width="0.16">IκB</text>
<ellipse cx="126.4" cy="325.80" rx="13.4" ry="5.6" fill="#f3f3fb" stroke="#8a90c0" stroke-width="0.7"/>
<text x="125.91" y="328.20" font-size="6.6" fill="#2a3050" text-anchor="middle" textLength="19.62" lengthAdjust="spacingAndGlyphs" stroke="#2a3050" stroke-width="0.16">NF-κB</text>
<rect x="106.40" y="288.80" width="17.20" height="7.40" fill="#ecc8d2" stroke="#d9a9b9" stroke-width="0.6" rx="1.6"/>
<text x="114.65" y="295.30" font-size="7.8" fill="#2a1a20" text-anchor="middle" textLength="13.85" lengthAdjust="spacingAndGlyphs" stroke="#2a1a20" stroke-width="0.16">IKK</text>
<line x1="125.80" y1="288.00" x2="125.80" y2="309.60" stroke="#555" stroke-width="0.6"/>
<path d="M124.7,309.2 L126.9,309.2 L125.8,311.4 Z" fill="#333"/>
<line x1="125.80" y1="331.60" x2="125.80" y2="339.00" stroke="#555" stroke-width="0.6"/>
<path d="M124.7,338.6 L126.9,338.6 L125.8,340.8 Z" fill="#333"/>
<circle cx="110.60" cy="284.90" r="3.3" fill="#f0d414" stroke="#6a5a08" stroke-width="0.8"/>
<text x="110.53" y="286.80" font-size="5.2" fill="#4a3a00" text-anchor="middle" stroke="#4a3a00" stroke-width="0.16">P</text>
<line x1="109.20" y1="309.20" x2="114.60" y2="313.40" stroke="#555" stroke-width="0.5"/>
<line x1="114.80" y1="306.20" x2="116.50" y2="312.80" stroke="#555" stroke-width="0.5"/>
<circle cx="106.60" cy="310.30" r="3.8" fill="#f0d414" stroke="#6a5a08" stroke-width="0.8"/>
<text x="106.53" y="312.20" font-size="5.2" fill="#4a3a00" text-anchor="middle" stroke="#4a3a00" stroke-width="0.16">P</text>
<circle cx="114.60" cy="303.90" r="3.8" fill="#f0d414" stroke="#6a5a08" stroke-width="0.8"/>
<text x="114.53" y="305.80" font-size="5.2" fill="#4a3a00" text-anchor="middle" stroke="#4a3a00" stroke-width="0.16">P</text>
<text x="96.19" y="347.50" font-size="8.2" fill="#2a2a2a" textLength="55.20" lengthAdjust="spacingAndGlyphs" stroke="#2a2a2a" stroke-width="0.16">IκB degradation</text>
<text x="199.47" y="173.80" font-size="12.8" fill="#000" font-weight="bold" stroke="#000" stroke-width="0.16">E</text>
<text x="302.61" y="188.50" font-size="10.2" fill="#2a2a2a" textLength="99.61" lengthAdjust="spacingAndGlyphs" stroke="#2a2a2a" stroke-width="0.16">Transporter Expression</text>
<text x="276.62" y="204.20" font-size="10.0" fill="#2a2a2a" font-style="italic" textLength="37.65" lengthAdjust="spacingAndGlyphs" stroke="#2a2a2a" stroke-width="0.16">SLC7A5</text>
<text x="419.71" y="203.80" font-size="10.0" fill="#2a2a2a" font-style="italic" textLength="44.45" lengthAdjust="spacingAndGlyphs" stroke="#2a2a2a" stroke-width="0.16">SLC43A1</text>
<text x="218.80" y="282.45" font-size="8.5" fill="#1a1a1a" textLength="60.20" lengthAdjust="spacingAndGlyphs" transform="rotate(-90 218.80 282.45)" stroke="#1a1a1a" stroke-width="0.3">Relative expression</text>
<text x="230.30" y="295.84" font-size="8.5" fill="#1a1a1a" textLength="86.90" lengthAdjust="spacingAndGlyphs" transform="rotate(-90 230.30 295.84)" stroke="#1a1a1a" stroke-width="0.3">normalized to GAPDH/ACTB</text>
<rect x="263.80" y="258.90" width="14.40" height="35.20" fill="#b6b9c9"/>
<rect x="284.00" y="267.40" width="14.10" height="26.70" fill="#c8826f"/>
<rect x="303.00" y="225.70" width="14.80" height="68.40" fill="#b6b9c9"/>
<rect x="323.10" y="266.30" width="14.40" height="27.80" fill="#e8b9ab"/>
<line x1="271.00" y1="258.90" x2="271.00" y2="243.10" stroke="#666" stroke-width="0.8"/>
<line x1="268.00" y1="243.10" x2="274.00" y2="243.10" stroke="#666" stroke-width="0.8"/>
<line x1="290.90" y1="267.40" x2="290.90" y2="259.60" stroke="#666" stroke-width="0.8"/>
<line x1="287.90" y1="259.60" x2="293.90" y2="259.60" stroke="#666" stroke-width="0.8"/>
<line x1="310.40" y1="225.70" x2="310.40" y2="220.90" stroke="#666" stroke-width="0.8"/>
<line x1="307.40" y1="220.90" x2="313.40" y2="220.90" stroke="#666" stroke-width="0.8"/>
<line x1="330.30" y1="266.30" x2="330.30" y2="262.00" stroke="#666" stroke-width="0.8"/>
<line x1="327.30" y1="262.00" x2="333.30" y2="262.00" stroke="#666" stroke-width="0.8"/>
<circle cx="271.20" cy="243.10" r="2.5" fill="#373a44" stroke="#15151a" stroke-width="0.6"/>
<circle cx="271.20" cy="248.40" r="2.5" fill="#373a44" stroke="#15151a" stroke-width="0.6"/>
<circle cx="271.20" cy="257.50" r="2.5" fill="#373a44" stroke="#15151a" stroke-width="0.6"/>
<circle cx="271.20" cy="263.20" r="2.5" fill="#373a44" stroke="#15151a" stroke-width="0.6"/>
<circle cx="271.20" cy="278.60" r="2.5" fill="#373a44" stroke="#15151a" stroke-width="0.6"/>
<circle cx="285.40" cy="259.60" r="2.5" fill="#8d1a2c" stroke="#4a0a14" stroke-width="0.6"/>
<circle cx="296.60" cy="262.10" r="2.5" fill="#8d1a2c" stroke="#4a0a14" stroke-width="0.6"/>
<circle cx="285.40" cy="265.30" r="2.5" fill="#8d1a2c" stroke="#4a0a14" stroke-width="0.6"/>
<circle cx="296.60" cy="270.20" r="2.5" fill="#8d1a2c" stroke="#4a0a14" stroke-width="0.6"/>
<circle cx="290.90" cy="279.00" r="2.5" fill="#8d1a2c" stroke="#4a0a14" stroke-width="0.6"/>
<circle cx="310.40" cy="216.60" r="2.5" fill="#373a44" stroke="#15151a" stroke-width="0.6"/>
<circle cx="305.10" cy="230.40" r="2.5" fill="#373a44" stroke="#15151a" stroke-width="0.6"/>
<circle cx="308.70" cy="226.20" r="2.5" fill="#373a44" stroke="#15151a" stroke-width="0.6"/>
<circle cx="312.50" cy="227.40" r="2.5" fill="#373a44" stroke="#15151a" stroke-width="0.6"/>
<circle cx="316.30" cy="227.20" r="2.5" fill="#373a44" stroke="#15151a" stroke-width="0.6"/>
<circle cx="324.80" cy="261.70" r="2.5" fill="#8d1a2c" stroke="#4a0a14" stroke-width="0.6"/>
<circle cx="330.50" cy="261.10" r="2.5" fill="#8d1a2c" stroke="#4a0a14" stroke-width="0.6"/>
<circle cx="335.80" cy="265.30" r="2.5" fill="#8d1a2c" stroke="#4a0a14" stroke-width="0.6"/>
<circle cx="330.50" cy="268.00" r="2.5" fill="#8d1a2c" stroke="#4a0a14" stroke-width="0.6"/>
<circle cx="330.50" cy="273.80" r="2.5" fill="#8d1a2c" stroke="#4a0a14" stroke-width="0.6"/>
<line x1="255.30" y1="210.55" x2="255.30" y2="294.50" stroke="#1e1e1e" stroke-width="1.1"/>
<line x1="254.80" y1="294.10" x2="346.40" y2="294.10" stroke="#1e1e1e" stroke-width="1.1"/>
<line x1="252.00" y1="294.10" x2="255.30" y2="294.10" stroke="#1e1e1e" stroke-width="1"/>
<text x="249.13" y="296.95" font-size="8.0" fill="#333" text-anchor="end" textLength="12.05" lengthAdjust="spacingAndGlyphs" stroke="#333" stroke-width="0.16">0.0</text>
<line x1="252.00" y1="277.95" x2="255.30" y2="277.95" stroke="#1e1e1e" stroke-width="1"/>
<text x="249.15" y="280.80" font-size="8.0" fill="#333" text-anchor="end" textLength="12.07" lengthAdjust="spacingAndGlyphs" stroke="#333" stroke-width="0.16">0.5</text>
<line x1="252.00" y1="261.80" x2="255.30" y2="261.80" stroke="#1e1e1e" stroke-width="1"/>
<text x="249.14" y="264.65" font-size="8.0" fill="#333" text-anchor="end" textLength="12.41" lengthAdjust="spacingAndGlyphs" stroke="#333" stroke-width="0.16">1.0</text>
<line x1="252.00" y1="245.65" x2="255.30" y2="245.65" stroke="#1e1e1e" stroke-width="1"/>
<text x="249.16" y="248.50" font-size="8.0" fill="#333" text-anchor="end" textLength="12.43" lengthAdjust="spacingAndGlyphs" stroke="#333" stroke-width="0.16">1.5</text>
<line x1="252.00" y1="229.50" x2="255.30" y2="229.50" stroke="#1e1e1e" stroke-width="1"/>
<text x="249.13" y="232.35" font-size="8.0" fill="#333" text-anchor="end" textLength="12.17" lengthAdjust="spacingAndGlyphs" stroke="#333" stroke-width="0.16">2.0</text>
<line x1="252.00" y1="213.35" x2="255.30" y2="213.35" stroke="#1e1e1e" stroke-width="1"/>
<text x="249.15" y="216.20" font-size="8.0" fill="#333" text-anchor="end" textLength="12.19" lengthAdjust="spacingAndGlyphs" stroke="#333" stroke-width="0.16">2.5</text>
<line x1="270.20" y1="215.90" x2="308.80" y2="215.90" stroke="#2e2e2e" stroke-width="0.85"/>
<text x="290.19" y="217.00" font-size="8.5" fill="#222" text-anchor="middle" stroke="#222" stroke-width="0.16">**</text>
<line x1="312.00" y1="215.90" x2="335.50" y2="215.90" stroke="#2e2e2e" stroke-width="0.85"/>
<text x="324.19" y="217.00" font-size="8.5" fill="#222" text-anchor="middle" stroke="#222" stroke-width="0.16">**</text>
<line x1="270.20" y1="223.30" x2="291.30" y2="223.30" stroke="#2e2e2e" stroke-width="0.85"/>
<text x="280.46" y="221.80" font-size="6.8" fill="#333" text-anchor="middle" textLength="10.40" lengthAdjust="spacingAndGlyphs" stroke="#333" stroke-width="0.16">ns</text>
<line x1="270.80" y1="294.10" x2="270.80" y2="297.10" stroke="#1e1e1e" stroke-width="1"/>
<line x1="290.90" y1="294.10" x2="290.90" y2="297.10" stroke="#1e1e1e" stroke-width="1"/>
<line x1="310.40" y1="294.10" x2="310.40" y2="297.10" stroke="#1e1e1e" stroke-width="1"/>
<line x1="330.50" y1="294.10" x2="330.50" y2="297.10" stroke="#1e1e1e" stroke-width="1"/>
<rect x="401.60" y="254.70" width="15.20" height="38.40" fill="#b6b9c9"/>
<rect x="421.60" y="280.60" width="15.10" height="12.50" fill="#c8826f"/>
<rect x="441.70" y="239.50" width="15.10" height="53.60" fill="#b6b9c9"/>
<rect x="461.80" y="278.50" width="15.20" height="14.60" fill="#e8b9ab"/>
<line x1="409.30" y1="254.70" x2="409.30" y2="247.50" stroke="#666" stroke-width="0.8"/>
<line x1="406.30" y1="247.50" x2="412.30" y2="247.50" stroke="#666" stroke-width="0.8"/>
<line x1="449.30" y1="239.50" x2="449.30" y2="226.10" stroke="#666" stroke-width="0.8"/>
<line x1="446.30" y1="226.10" x2="452.30" y2="226.10" stroke="#666" stroke-width="0.8"/>
<circle cx="404.20" cy="246.00" r="2.5" fill="#373a44" stroke="#15151a" stroke-width="0.6"/>
<circle cx="414.60" cy="248.80" r="2.5" fill="#373a44" stroke="#15151a" stroke-width="0.6"/>
<circle cx="403.80" cy="254.00" r="2.5" fill="#373a44" stroke="#15151a" stroke-width="0.6"/>
<circle cx="414.60" cy="255.80" r="2.5" fill="#373a44" stroke="#15151a" stroke-width="0.6"/>
<circle cx="409.20" cy="261.20" r="2.5" fill="#373a44" stroke="#15151a" stroke-width="0.6"/>
<circle cx="429.40" cy="272.60" r="2.5" fill="#8d1a2c" stroke="#4a0a14" stroke-width="0.6"/>
<circle cx="424.40" cy="280.60" r="2.5" fill="#8d1a2c" stroke="#4a0a14" stroke-width="0.6"/>
<circle cx="428.90" cy="279.60" r="2.5" fill="#8d1a2c" stroke="#4a0a14" stroke-width="0.6"/>
<circle cx="434.60" cy="279.40" r="2.5" fill="#8d1a2c" stroke="#4a0a14" stroke-width="0.6"/>
<circle cx="423.60" cy="282.80" r="2.5" fill="#8d1a2c" stroke="#4a0a14" stroke-width="0.6"/>
<circle cx="448.80" cy="216.40" r="2.5" fill="#373a44" stroke="#15151a" stroke-width="0.6"/>
<circle cx="443.90" cy="248.20" r="2.5" fill="#373a44" stroke="#15151a" stroke-width="0.6"/>
<circle cx="447.30" cy="244.10" r="2.5" fill="#373a44" stroke="#15151a" stroke-width="0.6"/>
<circle cx="451.00" cy="243.90" r="2.5" fill="#373a44" stroke="#15151a" stroke-width="0.6"/>
<circle cx="454.70" cy="243.90" r="2.5" fill="#373a44" stroke="#15151a" stroke-width="0.6"/>
<circle cx="466.10" cy="275.20" r="2.5" fill="#8d1a2c" stroke="#4a0a14" stroke-width="0.6"/>
<circle cx="470.90" cy="276.60" r="2.5" fill="#8d1a2c" stroke="#4a0a14" stroke-width="0.6"/>
<circle cx="475.20" cy="276.30" r="2.5" fill="#8d1a2c" stroke="#4a0a14" stroke-width="0.6"/>
<circle cx="467.70" cy="281.70" r="2.5" fill="#8d1a2c" stroke="#4a0a14" stroke-width="0.6"/>
<circle cx="472.00" cy="280.00" r="2.5" fill="#8d1a2c" stroke="#4a0a14" stroke-width="0.6"/>
<line x1="393.30" y1="209.30" x2="393.30" y2="293.50" stroke="#1e1e1e" stroke-width="1.1"/>
<line x1="392.80" y1="293.10" x2="481.50" y2="293.10" stroke="#1e1e1e" stroke-width="1.1"/>
<line x1="390.00" y1="293.10" x2="393.30" y2="293.10" stroke="#1e1e1e" stroke-width="1"/>
<text x="387.63" y="295.95" font-size="8.0" fill="#333" text-anchor="end" textLength="12.05" lengthAdjust="spacingAndGlyphs" stroke="#333" stroke-width="0.16">0.0</text>
<line x1="390.00" y1="272.85" x2="393.30" y2="272.85" stroke="#1e1e1e" stroke-width="1"/>
<text x="387.65" y="275.70" font-size="8.0" fill="#333" text-anchor="end" textLength="12.07" lengthAdjust="spacingAndGlyphs" stroke="#333" stroke-width="0.16">0.5</text>
<line x1="390.00" y1="252.60" x2="393.30" y2="252.60" stroke="#1e1e1e" stroke-width="1"/>
<text x="387.64" y="255.45" font-size="8.0" fill="#333" text-anchor="end" textLength="12.41" lengthAdjust="spacingAndGlyphs" stroke="#333" stroke-width="0.16">1.0</text>
<line x1="390.00" y1="232.35" x2="393.30" y2="232.35" stroke="#1e1e1e" stroke-width="1"/>
<text x="387.66" y="235.20" font-size="8.0" fill="#333" text-anchor="end" textLength="12.43" lengthAdjust="spacingAndGlyphs" stroke="#333" stroke-width="0.16">1.5</text>
<line x1="390.00" y1="212.10" x2="393.30" y2="212.10" stroke="#1e1e1e" stroke-width="1"/>
<text x="387.63" y="214.95" font-size="8.0" fill="#333" text-anchor="end" textLength="12.17" lengthAdjust="spacingAndGlyphs" stroke="#333" stroke-width="0.16">2.0</text>
<line x1="409.20" y1="214.00" x2="447.10" y2="214.00" stroke="#2e2e2e" stroke-width="0.85"/>
<text x="426.50" y="215.10" font-size="8.5" fill="#222" text-anchor="middle" stroke="#222" stroke-width="0.16">*</text>
<line x1="453.60" y1="214.00" x2="473.50" y2="214.00" stroke="#2e2e2e" stroke-width="0.85"/>
<text x="463.80" y="215.10" font-size="8.5" fill="#222" text-anchor="middle" stroke="#222" stroke-width="0.16">***</text>
<line x1="409.20" y1="221.10" x2="430.20" y2="221.10" stroke="#2e2e2e" stroke-width="0.85"/>
<text x="419.00" y="222.20" font-size="8.5" fill="#222" text-anchor="middle" stroke="#222" stroke-width="0.16">***</text>
<line x1="409.50" y1="293.10" x2="409.50" y2="296.10" stroke="#1e1e1e" stroke-width="1"/>
<line x1="429.60" y1="293.10" x2="429.60" y2="296.10" stroke="#1e1e1e" stroke-width="1"/>
<line x1="449.20" y1="293.10" x2="449.20" y2="296.10" stroke="#1e1e1e" stroke-width="1"/>
<line x1="469.50" y1="293.10" x2="469.50" y2="296.10" stroke="#1e1e1e" stroke-width="1"/>
<text x="273.90" y="303.60" font-size="8.2" fill="#2a2a2a" text-anchor="end" textLength="26.74" lengthAdjust="spacingAndGlyphs" stroke="#2a2a2a" stroke-width="0.16" transform="rotate(-45 273.90 303.60)">DMSO</text>
<text x="294.03" y="303.47" font-size="8.2" fill="#2a2a2a" text-anchor="end" textLength="16.84" lengthAdjust="spacingAndGlyphs" stroke="#2a2a2a" stroke-width="0.16" transform="rotate(-45 294.03 303.47)">IKKi</text>
<text x="313.50" y="303.60" font-size="8.2" fill="#2a2a2a" text-anchor="end" textLength="26.74" lengthAdjust="spacingAndGlyphs" stroke="#2a2a2a" stroke-width="0.16" transform="rotate(-45 313.50 303.60)">DMSO</text>
<text x="333.63" y="303.47" font-size="8.2" fill="#2a2a2a" text-anchor="end" textLength="16.84" lengthAdjust="spacingAndGlyphs" stroke="#2a2a2a" stroke-width="0.16" transform="rotate(-45 333.63 303.47)">IKKi</text>
<text x="412.40" y="302.60" font-size="8.2" fill="#2a2a2a" text-anchor="end" textLength="26.74" lengthAdjust="spacingAndGlyphs" stroke="#2a2a2a" stroke-width="0.16" transform="rotate(-45 412.40 302.60)">DMSO</text>
<text x="432.63" y="302.47" font-size="8.2" fill="#2a2a2a" text-anchor="end" textLength="16.84" lengthAdjust="spacingAndGlyphs" stroke="#2a2a2a" stroke-width="0.16" transform="rotate(-45 432.63 302.47)">IKKi</text>
<text x="452.10" y="302.60" font-size="8.2" fill="#2a2a2a" text-anchor="end" textLength="26.74" lengthAdjust="spacingAndGlyphs" stroke="#2a2a2a" stroke-width="0.16" transform="rotate(-45 452.10 302.60)">DMSO</text>
<text x="472.43" y="302.47" font-size="8.2" fill="#2a2a2a" text-anchor="end" textLength="16.84" lengthAdjust="spacingAndGlyphs" stroke="#2a2a2a" stroke-width="0.16" transform="rotate(-45 472.43 302.47)">IKKi</text>
<line x1="273.30" y1="326.10" x2="289.00" y2="326.10" stroke="#3a3a3a" stroke-width="0.75"/>
<text x="268.41" y="334.00" font-size="7.8" fill="#555" textLength="25.40" lengthAdjust="spacingAndGlyphs" stroke="#555" stroke-width="0.16">Control</text>
<line x1="312.20" y1="326.10" x2="327.00" y2="326.10" stroke="#8eaadb" stroke-width="0.75"/>
<text x="305.41" y="334.00" font-size="7.8" fill="#7ea0d6" textLength="30.51" lengthAdjust="spacingAndGlyphs" stroke="#7ea0d6" stroke-width="0.16">GPR-OE</text>
<line x1="411.80" y1="326.20" x2="427.30" y2="326.20" stroke="#3a3a3a" stroke-width="0.75"/>
<text x="406.80" y="334.20" font-size="7.8" fill="#555" textLength="25.71" lengthAdjust="spacingAndGlyphs" stroke="#555" stroke-width="0.16">Control</text>
<line x1="451.50" y1="326.20" x2="467.20" y2="326.20" stroke="#8eaadb" stroke-width="0.75"/>
<text x="443.81" y="334.20" font-size="7.8" fill="#7ea0d6" textLength="31.13" lengthAdjust="spacingAndGlyphs" stroke="#7ea0d6" stroke-width="0.16">GPR-OE</text>
<text x="28.97" y="364.50" font-size="12.8" fill="#000" font-weight="bold" stroke="#000" stroke-width="0.16">F</text>
<text x="180.00" y="379.00" font-size="10.0" fill="#2a2a2a" textLength="169.12" lengthAdjust="spacingAndGlyphs" stroke="#2a2a2a" stroke-width="0.16">GSEA of Epperts et al., LSC Signature</text>
<line x1="111.25" y1="411.90" x2="111.25" y2="461.60" stroke="#f3f3f3" stroke-width="0.6"/>
<line x1="111.25" y1="478.10" x2="111.25" y2="516.40" stroke="#f3f3f3" stroke-width="0.6"/>
<line x1="132.10" y1="411.90" x2="132.10" y2="461.60" stroke="#f3f3f3" stroke-width="0.6"/>
<line x1="132.10" y1="478.10" x2="132.10" y2="516.40" stroke="#f3f3f3" stroke-width="0.6"/>
<line x1="152.95" y1="411.90" x2="152.95" y2="461.60" stroke="#f3f3f3" stroke-width="0.6"/>
<line x1="152.95" y1="478.10" x2="152.95" y2="516.40" stroke="#f3f3f3" stroke-width="0.6"/>
<line x1="173.80" y1="411.90" x2="173.80" y2="461.60" stroke="#f3f3f3" stroke-width="0.6"/>
<line x1="173.80" y1="478.10" x2="173.80" y2="516.40" stroke="#f3f3f3" stroke-width="0.6"/>
<line x1="194.65" y1="411.90" x2="194.65" y2="461.60" stroke="#f3f3f3" stroke-width="0.6"/>
<line x1="194.65" y1="478.10" x2="194.65" y2="516.40" stroke="#f3f3f3" stroke-width="0.6"/>
<line x1="215.50" y1="411.90" x2="215.50" y2="461.60" stroke="#f3f3f3" stroke-width="0.6"/>
<line x1="215.50" y1="478.10" x2="215.50" y2="516.40" stroke="#f3f3f3" stroke-width="0.6"/>
<line x1="236.35" y1="411.90" x2="236.35" y2="461.60" stroke="#f3f3f3" stroke-width="0.6"/>
<line x1="236.35" y1="478.10" x2="236.35" y2="516.40" stroke="#f3f3f3" stroke-width="0.6"/>
<line x1="109.50" y1="459.20" x2="250.00" y2="459.20" stroke="#c6c6c6" stroke-width="0.9" stroke-dasharray="12.6 12.9"/>
<rect x="187.90" y="412.90" width="59.90" height="11.10" fill="#d6d6d6"/>
<rect x="187.90" y="424.00" width="59.90" height="11.30" fill="#ebebeb"/>
<line x1="215.40" y1="412.90" x2="215.40" y2="435.30" stroke="#f4f4f4" stroke-width="0.5"/>
<text x="193.92" y="420.90" font-size="7.0" fill="#1a1a1a" font-weight="bold" textLength="15.25" lengthAdjust="spacingAndGlyphs" stroke="#1a1a1a" stroke-width="0.16">NES</text>
<text x="218.25" y="420.90" font-size="7.0" fill="#1a1a1a" font-weight="bold" textLength="26.42" lengthAdjust="spacingAndGlyphs" stroke="#1a1a1a" stroke-width="0.16">p.adjust</text>
<text x="191.29" y="432.40" font-size="7.0" fill="#333" textLength="20.74" lengthAdjust="spacingAndGlyphs" stroke="#333" stroke-width="0.16">1.6467</text>
<text x="221.54" y="432.40" font-size="7.0" fill="#333" textLength="21.57" lengthAdjust="spacingAndGlyphs" stroke="#333" stroke-width="0.16">0.0153</text>
<path d="M91.50,459.20 L92.60,459.00 L93.20,434.80 L103.30,438.60 L104.10,427.50 L104.90,428.60 L105.70,421.00 L106.70,421.60 L107.30,416.30 L108.50,416.40 L110.50,413.40 L121.00,418.30 L122.80,416.70 L124.40,418.20 L126.20,416.90 L127.60,417.70 L147.70,426.20 L152.30,426.60 L172.30,434.20 L186.20,438.80 L200.00,445.00 L204.00,446.60 L206.50,445.60 L214.50,448.30 L222.30,449.00 L230.00,452.00 L236.50,454.30 L238.20,453.40 L248.60,458.60" fill="none" stroke="#8c2233" stroke-width="1.15" stroke-linejoin="round"/>
<line x1="91.20" y1="411.90" x2="91.20" y2="461.60" stroke="#1e1e1e" stroke-width="1.0"/>
<line x1="88.20" y1="459.20" x2="91.20" y2="459.20" stroke="#1e1e1e" stroke-width="0.9"/>
<text x="83.82" y="462.00" font-size="8.0" fill="#222" text-anchor="end" textLength="11.84" lengthAdjust="spacingAndGlyphs" stroke="#222" stroke-width="0.16">0.0</text>
<line x1="88.20" y1="444.98" x2="91.20" y2="444.98" stroke="#1e1e1e" stroke-width="0.9"/>
<text x="83.91" y="447.78" font-size="8.0" fill="#222" text-anchor="end" textLength="11.93" lengthAdjust="spacingAndGlyphs" stroke="#222" stroke-width="0.16">0.2</text>
<line x1="88.20" y1="430.76" x2="91.20" y2="430.76" stroke="#1e1e1e" stroke-width="0.9"/>
<text x="83.73" y="433.56" font-size="8.0" fill="#222" text-anchor="end" textLength="11.75" lengthAdjust="spacingAndGlyphs" stroke="#222" stroke-width="0.16">0.4</text>
<line x1="88.20" y1="416.54" x2="91.20" y2="416.54" stroke="#1e1e1e" stroke-width="0.9"/>
<text x="83.87" y="419.34" font-size="8.0" fill="#222" text-anchor="end" textLength="11.89" lengthAdjust="spacingAndGlyphs" stroke="#222" stroke-width="0.16">0.6</text>
<line x1="91.20" y1="464.30" x2="91.20" y2="476.70" stroke="#1e1e1e" stroke-width="1.0"/>
<line x1="93.20" y1="464.30" x2="93.20" y2="473.20" stroke="#3a3a3a" stroke-width="0.75"/>
<line x1="103.00" y1="464.30" x2="103.00" y2="473.20" stroke="#3a3a3a" stroke-width="0.75"/>
<line x1="104.60" y1="464.30" x2="104.60" y2="473.20" stroke="#3a3a3a" stroke-width="0.75"/>
<line x1="106.20" y1="464.30" x2="106.20" y2="473.20" stroke="#3a3a3a" stroke-width="0.75"/>
<line x1="107.90" y1="464.30" x2="107.90" y2="473.20" stroke="#3a3a3a" stroke-width="0.75"/>
<line x1="109.50" y1="464.30" x2="109.50" y2="473.20" stroke="#3a3a3a" stroke-width="0.75"/>
<line x1="122.60" y1="464.30" x2="122.60" y2="473.20" stroke="#3a3a3a" stroke-width="0.75"/>
<line x1="126.80" y1="464.30" x2="126.80" y2="473.20" stroke="#3a3a3a" stroke-width="0.75"/>
<line x1="147.70" y1="464.30" x2="147.70" y2="473.20" stroke="#3a3a3a" stroke-width="0.75"/>
<line x1="149.50" y1="464.30" x2="149.50" y2="473.20" stroke="#3a3a3a" stroke-width="0.75"/>
<line x1="152.00" y1="464.30" x2="152.00" y2="473.20" stroke="#3a3a3a" stroke-width="0.75"/>
<line x1="155.10" y1="464.30" x2="155.10" y2="473.20" stroke="#3a3a3a" stroke-width="0.75"/>
<line x1="158.50" y1="464.30" x2="158.50" y2="473.20" stroke="#3a3a3a" stroke-width="0.75"/>
<line x1="159.90" y1="464.30" x2="159.90" y2="473.20" stroke="#3a3a3a" stroke-width="0.75"/>
<line x1="161.80" y1="464.30" x2="161.80" y2="473.20" stroke="#3a3a3a" stroke-width="0.75"/>
<line x1="164.80" y1="464.30" x2="164.80" y2="473.20" stroke="#3a3a3a" stroke-width="0.75"/>
<line x1="166.10" y1="464.30" x2="166.10" y2="473.20" stroke="#3a3a3a" stroke-width="0.75"/>
<line x1="168.30" y1="464.30" x2="168.30" y2="473.20" stroke="#3a3a3a" stroke-width="0.75"/>
<line x1="169.90" y1="464.30" x2="169.90" y2="473.20" stroke="#3a3a3a" stroke-width="0.75"/>
<line x1="173.20" y1="464.30" x2="173.20" y2="473.20" stroke="#3a3a3a" stroke-width="0.75"/>
<line x1="175.40" y1="464.30" x2="175.40" y2="473.20" stroke="#3a3a3a" stroke-width="0.75"/>
<line x1="180.90" y1="464.30" x2="180.90" y2="473.20" stroke="#3a3a3a" stroke-width="0.75"/>
<line x1="183.80" y1="464.30" x2="183.80" y2="473.20" stroke="#3a3a3a" stroke-width="0.75"/>
<line x1="186.00" y1="464.30" x2="186.00" y2="473.20" stroke="#3a3a3a" stroke-width="0.75"/>
<line x1="204.20" y1="464.30" x2="204.20" y2="473.20" stroke="#3a3a3a" stroke-width="0.75"/>
<line x1="207.00" y1="464.30" x2="207.00" y2="473.20" stroke="#3a3a3a" stroke-width="0.75"/>
<line x1="211.90" y1="464.30" x2="211.90" y2="473.20" stroke="#3a3a3a" stroke-width="0.75"/>
<line x1="216.30" y1="464.30" x2="216.30" y2="473.20" stroke="#3a3a3a" stroke-width="0.75"/>
<line x1="223.00" y1="464.30" x2="223.00" y2="473.20" stroke="#3a3a3a" stroke-width="0.75"/>
<line x1="237.30" y1="464.30" x2="237.30" y2="473.20" stroke="#3a3a3a" stroke-width="0.75"/>
<rect x="91.20" y="473.30" width="6.80" height="3.40" fill="#7a2020"/>
<rect x="98.00" y="473.30" width="36.00" height="3.40" fill="#b03a2d"/>
<rect x="134.00" y="473.30" width="29.30" height="3.40" fill="#c9654c"/>
<rect x="163.30" y="473.30" width="11.20" height="3.40" fill="#e1a18a"/>
<rect x="174.50" y="473.30" width="15.30" height="3.40" fill="#f4e4da"/>
<rect x="192.00" y="473.30" width="41.00" height="3.40" fill="#c9d7ed"/>
<rect x="233.00" y="473.30" width="13.00" height="3.40" fill="#6684c6"/>
<rect x="246.00" y="473.30" width="3.60" height="3.40" fill="#2c4896"/>
<path d="M91.70,501.60 L91.70,489.30 L93.00,491.20 L95.00,493.20 L98.00,495.20 L102.00,496.80 L108.00,498.30 L116.00,499.40 L126.00,500.30 L140.00,500.90 L160.00,501.40 L180.00,501.80 L200.00,502.20 L220.00,502.80 L232.00,503.40 L240.00,504.30 L244.00,505.30 L246.50,506.80 L248.00,509.00 L249.20,514.00 L249.60,501.60 Z" fill="#c9c9c9"/>
<line x1="91.20" y1="478.10" x2="91.20" y2="516.90" stroke="#1e1e1e" stroke-width="1.0"/>
<line x1="90.70" y1="516.40" x2="250.00" y2="516.40" stroke="#1e1e1e" stroke-width="1.0"/>
<line x1="88.20" y1="483.15" x2="91.20" y2="483.15" stroke="#1e1e1e" stroke-width="0.9"/>
<text x="83.83" y="485.95" font-size="8.0" fill="#222" text-anchor="end" textLength="12.19" lengthAdjust="spacingAndGlyphs" stroke="#222" stroke-width="0.16">1.0</text>
<line x1="88.20" y1="492.38" x2="91.20" y2="492.38" stroke="#1e1e1e" stroke-width="0.9"/>
<text x="83.84" y="495.18" font-size="8.0" fill="#222" text-anchor="end" textLength="11.86" lengthAdjust="spacingAndGlyphs" stroke="#222" stroke-width="0.16">0.5</text>
<line x1="88.20" y1="501.60" x2="91.20" y2="501.60" stroke="#1e1e1e" stroke-width="0.9"/>
<text x="83.82" y="504.40" font-size="8.0" fill="#222" text-anchor="end" textLength="11.84" lengthAdjust="spacingAndGlyphs" stroke="#222" stroke-width="0.16">0.0</text>
<line x1="88.20" y1="510.83" x2="91.20" y2="510.83" stroke="#1e1e1e" stroke-width="0.9"/>
<text x="83.87" y="513.62" font-size="8.0" fill="#222" text-anchor="end" textLength="17.39" lengthAdjust="spacingAndGlyphs" stroke="#222" stroke-width="0.16">−0.5</text>
<line x1="132.10" y1="516.40" x2="132.10" y2="519.40" stroke="#1e1e1e" stroke-width="0.9"/>
<text x="132.05" y="530.60" font-size="8.8" fill="#222" text-anchor="middle" textLength="20.11" lengthAdjust="spacingAndGlyphs" stroke="#222" stroke-width="0.16">2500</text>
<line x1="175.20" y1="516.40" x2="175.20" y2="519.40" stroke="#1e1e1e" stroke-width="0.9"/>
<text x="175.20" y="530.60" font-size="8.8" fill="#222" text-anchor="middle" textLength="20.02" lengthAdjust="spacingAndGlyphs" stroke="#222" stroke-width="0.16">5000</text>
<line x1="215.60" y1="516.40" x2="215.60" y2="519.40" stroke="#1e1e1e" stroke-width="0.9"/>
<text x="215.55" y="530.60" font-size="8.8" fill="#222" text-anchor="middle" textLength="20.11" lengthAdjust="spacingAndGlyphs" stroke="#222" stroke-width="0.16">7500</text>
<text x="132.67" y="543.90" font-size="9.7" fill="#1e1e1e" font-weight="bold" textLength="74.79" lengthAdjust="spacingAndGlyphs" stroke="#1e1e1e" stroke-width="0.16">Rank in ordered dataset</text>
<text x="96.48" y="486.20" font-size="8.4" fill="#7ea0d6" textLength="33.07" lengthAdjust="spacingAndGlyphs" stroke="#7ea0d6" stroke-width="0.16">GPR-OE</text>
<text x="217.57" y="488.50" font-size="8.4" fill="#444" textLength="27.88" lengthAdjust="spacingAndGlyphs" stroke="#444" stroke-width="0.16">Control</text>
<text x="48.60" y="450.66" font-size="8.3" fill="#1a1a1a" textLength="26.20" lengthAdjust="spacingAndGlyphs" transform="rotate(-90 48.60 450.66)" stroke="#1a1a1a" stroke-width="0.3">Running</text>
<text x="60.90" y="463.90" font-size="8.3" fill="#1a1a1a" textLength="53.29" lengthAdjust="spacingAndGlyphs" transform="rotate(-90 60.90 463.90)" stroke="#1a1a1a" stroke-width="0.3">enrichment score</text>
<text x="49.00" y="514.15" font-size="8.3" fill="#1a1a1a" textLength="34.29" lengthAdjust="spacingAndGlyphs" transform="rotate(-90 49.00 514.15)" stroke="#1a1a1a" stroke-width="0.3">Ranked list</text>
<text x="60.00" y="507.59" font-size="8.3" fill="#1a1a1a" textLength="20.58" lengthAdjust="spacingAndGlyphs" transform="rotate(-90 60.00 507.59)" stroke="#1a1a1a" stroke-width="0.3">metric</text>
<text x="369.00" y="393.80" font-size="10.0" fill="#2a2a2a" textLength="89.34" lengthAdjust="spacingAndGlyphs" stroke="#2a2a2a" stroke-width="0.16">GPR-OE vs. Control</text>
<text x="371.91" y="406.30" font-size="10.0" fill="#2a2a2a" textLength="80.58" lengthAdjust="spacingAndGlyphs" stroke="#2a2a2a" stroke-width="0.16">(Treated with IKKi)</text>
<text x="125.30" y="399.70" font-size="10.0" fill="#2a2a2a" textLength="89.34" lengthAdjust="spacingAndGlyphs" stroke="#2a2a2a" stroke-width="0.16">GPR-OE vs. Control</text>
<line x1="357.35" y1="415.00" x2="357.35" y2="462.00" stroke="#f3f3f3" stroke-width="0.6"/>
<line x1="357.35" y1="482.20" x2="357.35" y2="516.20" stroke="#f3f3f3" stroke-width="0.6"/>
<line x1="377.40" y1="415.00" x2="377.40" y2="462.00" stroke="#f3f3f3" stroke-width="0.6"/>
<line x1="377.40" y1="482.20" x2="377.40" y2="516.20" stroke="#f3f3f3" stroke-width="0.6"/>
<line x1="397.45" y1="415.00" x2="397.45" y2="462.00" stroke="#f3f3f3" stroke-width="0.6"/>
<line x1="397.45" y1="482.20" x2="397.45" y2="516.20" stroke="#f3f3f3" stroke-width="0.6"/>
<line x1="417.50" y1="415.00" x2="417.50" y2="462.00" stroke="#f3f3f3" stroke-width="0.6"/>
<line x1="417.50" y1="482.20" x2="417.50" y2="516.20" stroke="#f3f3f3" stroke-width="0.6"/>
<line x1="437.55" y1="415.00" x2="437.55" y2="462.00" stroke="#f3f3f3" stroke-width="0.6"/>
<line x1="437.55" y1="482.20" x2="437.55" y2="516.20" stroke="#f3f3f3" stroke-width="0.6"/>
<line x1="457.60" y1="415.00" x2="457.60" y2="462.00" stroke="#f3f3f3" stroke-width="0.6"/>
<line x1="457.60" y1="482.20" x2="457.60" y2="516.20" stroke="#f3f3f3" stroke-width="0.6"/>
<line x1="477.65" y1="415.00" x2="477.65" y2="462.00" stroke="#f3f3f3" stroke-width="0.6"/>
<line x1="477.65" y1="482.20" x2="477.65" y2="516.20" stroke="#f3f3f3" stroke-width="0.6"/>
<line x1="356.30" y1="439.30" x2="490.10" y2="439.30" stroke="#c6c6c6" stroke-width="0.9" stroke-dasharray="12.4 12.9"/>
<rect x="424.20" y="414.30" width="60.00" height="11.10" fill="#d6d6d6"/>
<rect x="424.20" y="425.40" width="60.00" height="11.10" fill="#ebebeb"/>
<line x1="452.60" y1="414.30" x2="452.60" y2="436.50" stroke="#f4f4f4" stroke-width="0.5"/>
<text x="430.74" y="422.30" font-size="7.0" fill="#1a1a1a" font-weight="bold" textLength="14.51" lengthAdjust="spacingAndGlyphs" stroke="#1a1a1a" stroke-width="0.16">NES</text>
<text x="454.94" y="422.30" font-size="7.0" fill="#1a1a1a" font-weight="bold" textLength="27.04" lengthAdjust="spacingAndGlyphs" stroke="#1a1a1a" stroke-width="0.16">p.adjust</text>
<text x="424.56" y="433.60" font-size="7.0" fill="#333" textLength="26.03" lengthAdjust="spacingAndGlyphs" stroke="#333" stroke-width="0.16">−0.8005</text>
<text x="456.92" y="433.60" font-size="7.0" fill="#333" textLength="23.01" lengthAdjust="spacingAndGlyphs" stroke="#333" stroke-width="0.16">0.9246</text>
<path d="M337.60,439.30 L338.40,439.30 L338.80,431.30 L340.00,433.60 L341.20,430.00 L343.00,425.00 L344.50,427.60 L345.60,427.80 L348.80,422.50 L357.00,428.20 L358.60,424.60 L360.40,423.20 L362.40,418.80 L364.00,420.20 L366.00,417.60 L368.00,419.60 L370.00,417.40 L372.00,419.20 L375.00,416.80 L378.00,418.30 L380.00,418.90 L388.80,422.30 L391.30,419.50 L400.00,425.40 L430.00,444.30 L435.80,445.70 L447.30,451.20 L449.00,450.50 L451.90,452.00 L468.80,461.80 L470.40,456.50 L472.70,455.40 L473.90,448.50 L476.20,447.30 L477.30,441.50 L480.80,442.70 L483.10,439.20 L484.90,441.50 L487.20,436.90 L490.30,438.80" fill="none" stroke="#26356a" stroke-width="1.15" stroke-linejoin="round"/>
<line x1="336.90" y1="415.00" x2="336.90" y2="462.00" stroke="#1e1e1e" stroke-width="1.0"/>
<line x1="333.90" y1="419.34" x2="336.90" y2="419.34" stroke="#1e1e1e" stroke-width="0.9"/>
<text x="330.91" y="422.14" font-size="8.0" fill="#222" text-anchor="end" textLength="11.93" lengthAdjust="spacingAndGlyphs" stroke="#222" stroke-width="0.16">0.2</text>
<line x1="333.90" y1="429.32" x2="336.90" y2="429.32" stroke="#1e1e1e" stroke-width="0.9"/>
<text x="330.91" y="432.12" font-size="8.0" fill="#222" text-anchor="end" textLength="11.93" lengthAdjust="spacingAndGlyphs" stroke="#222" stroke-width="0.16">0.1</text>
<line x1="333.90" y1="439.30" x2="336.90" y2="439.30" stroke="#1e1e1e" stroke-width="0.9"/>
<text x="330.82" y="442.10" font-size="8.0" fill="#222" text-anchor="end" textLength="11.84" lengthAdjust="spacingAndGlyphs" stroke="#222" stroke-width="0.16">0.0</text>
<line x1="333.90" y1="449.28" x2="336.90" y2="449.28" stroke="#1e1e1e" stroke-width="0.9"/>
<text x="330.93" y="452.08" font-size="8.0" fill="#222" text-anchor="end" textLength="17.45" lengthAdjust="spacingAndGlyphs" stroke="#222" stroke-width="0.16">−0.1</text>
<line x1="333.90" y1="459.26" x2="336.90" y2="459.26" stroke="#1e1e1e" stroke-width="0.9"/>
<text x="330.93" y="462.06" font-size="8.0" fill="#222" text-anchor="end" textLength="17.45" lengthAdjust="spacingAndGlyphs" stroke="#222" stroke-width="0.16">−0.2</text>
<line x1="336.90" y1="465.40" x2="336.90" y2="477.40" stroke="#1e1e1e" stroke-width="1.0"/>
<line x1="339.30" y1="465.40" x2="339.30" y2="473.90" stroke="#3a3a3a" stroke-width="0.75"/>
<line x1="341.50" y1="465.40" x2="341.50" y2="473.90" stroke="#3a3a3a" stroke-width="0.75"/>
<line x1="343.00" y1="465.40" x2="343.00" y2="473.90" stroke="#3a3a3a" stroke-width="0.75"/>
<line x1="348.10" y1="465.40" x2="348.10" y2="473.90" stroke="#3a3a3a" stroke-width="0.75"/>
<line x1="357.80" y1="465.40" x2="357.80" y2="473.90" stroke="#3a3a3a" stroke-width="0.75"/>
<line x1="358.80" y1="465.40" x2="358.80" y2="473.90" stroke="#3a3a3a" stroke-width="0.75"/>
<line x1="359.90" y1="465.40" x2="359.90" y2="473.90" stroke="#3a3a3a" stroke-width="0.75"/>
<line x1="361.20" y1="465.40" x2="361.20" y2="473.90" stroke="#3a3a3a" stroke-width="0.75"/>
<line x1="362.40" y1="465.40" x2="362.40" y2="473.90" stroke="#3a3a3a" stroke-width="0.75"/>
<line x1="365.00" y1="465.40" x2="365.00" y2="473.90" stroke="#3a3a3a" stroke-width="0.75"/>
<line x1="368.10" y1="465.40" x2="368.10" y2="473.90" stroke="#3a3a3a" stroke-width="0.75"/>
<line x1="369.60" y1="465.40" x2="369.60" y2="473.90" stroke="#3a3a3a" stroke-width="0.75"/>
<line x1="372.70" y1="465.40" x2="372.70" y2="473.90" stroke="#3a3a3a" stroke-width="0.75"/>
<line x1="374.70" y1="465.40" x2="374.70" y2="473.90" stroke="#3a3a3a" stroke-width="0.75"/>
<line x1="378.80" y1="465.40" x2="378.80" y2="473.90" stroke="#3a3a3a" stroke-width="0.75"/>
<line x1="385.00" y1="465.40" x2="385.00" y2="473.90" stroke="#3a3a3a" stroke-width="0.75"/>
<line x1="388.10" y1="465.40" x2="388.10" y2="473.90" stroke="#3a3a3a" stroke-width="0.75"/>
<line x1="389.20" y1="465.40" x2="389.20" y2="473.90" stroke="#3a3a3a" stroke-width="0.75"/>
<line x1="390.40" y1="465.40" x2="390.40" y2="473.90" stroke="#3a3a3a" stroke-width="0.75"/>
<line x1="403.50" y1="465.40" x2="403.50" y2="473.90" stroke="#3a3a3a" stroke-width="0.75"/>
<line x1="405.50" y1="465.40" x2="405.50" y2="473.90" stroke="#3a3a3a" stroke-width="0.75"/>
<line x1="407.30" y1="465.40" x2="407.30" y2="473.90" stroke="#3a3a3a" stroke-width="0.75"/>
<line x1="408.80" y1="465.40" x2="408.80" y2="473.90" stroke="#3a3a3a" stroke-width="0.75"/>
<line x1="431.20" y1="465.40" x2="431.20" y2="473.90" stroke="#3a3a3a" stroke-width="0.75"/>
<line x1="432.90" y1="465.40" x2="432.90" y2="473.90" stroke="#3a3a3a" stroke-width="0.75"/>
<line x1="434.80" y1="465.40" x2="434.80" y2="473.90" stroke="#3a3a3a" stroke-width="0.75"/>
<line x1="448.90" y1="465.40" x2="448.90" y2="473.90" stroke="#3a3a3a" stroke-width="0.75"/>
<line x1="450.80" y1="465.40" x2="450.80" y2="473.90" stroke="#3a3a3a" stroke-width="0.75"/>
<line x1="469.20" y1="465.40" x2="469.20" y2="473.90" stroke="#3a3a3a" stroke-width="0.75"/>
<line x1="470.80" y1="465.40" x2="470.80" y2="473.90" stroke="#3a3a3a" stroke-width="0.75"/>
<line x1="472.40" y1="465.40" x2="472.40" y2="473.90" stroke="#3a3a3a" stroke-width="0.75"/>
<line x1="474.00" y1="465.40" x2="474.00" y2="473.90" stroke="#3a3a3a" stroke-width="0.75"/>
<line x1="476.20" y1="465.40" x2="476.20" y2="473.90" stroke="#3a3a3a" stroke-width="0.75"/>
<line x1="480.30" y1="465.40" x2="480.30" y2="473.90" stroke="#3a3a3a" stroke-width="0.75"/>
<line x1="486.00" y1="465.40" x2="486.00" y2="473.90" stroke="#3a3a3a" stroke-width="0.75"/>
<rect x="337.70" y="474.20" width="17.30" height="3.50" fill="#a42d22"/>
<rect x="355.00" y="474.20" width="20.80" height="3.50" fill="#c65a3c"/>
<rect x="375.80" y="474.20" width="20.00" height="3.50" fill="#de9c80"/>
<rect x="395.80" y="474.20" width="39.50" height="3.50" fill="#f4e2d7"/>
<rect x="441.00" y="474.20" width="17.20" height="3.50" fill="#d0dbef"/>
<rect x="458.20" y="474.20" width="9.00" height="3.50" fill="#7b96cf"/>
<rect x="467.20" y="474.20" width="20.40" height="3.50" fill="#4a66b3"/>
<rect x="487.60" y="474.20" width="2.40" height="3.50" fill="#1f3a8a"/>
<path d="M337.70,500.00 L337.70,487.60 L340.00,489.60 L344.00,491.80 L350.00,494.00 L358.00,495.80 L368.00,497.20 L380.00,498.40 L395.00,499.30 L412.00,500.00 L425.00,501.40 L440.00,502.40 L455.00,503.10 L468.00,503.90 L477.00,505.00 L483.00,506.60 L487.00,508.80 L489.80,512.00 L490.00,500.00 Z" fill="#c9c9c9"/>
<line x1="336.90" y1="482.20" x2="336.90" y2="516.70" stroke="#1e1e1e" stroke-width="1.0"/>
<line x1="336.40" y1="516.20" x2="490.10" y2="516.20" stroke="#1e1e1e" stroke-width="1.0"/>
<line x1="333.90" y1="483.80" x2="336.90" y2="483.80" stroke="#1e1e1e" stroke-width="0.9"/>
<text x="330.81" y="486.60" font-size="8.0" fill="#222" text-anchor="end" textLength="15.61" lengthAdjust="spacingAndGlyphs" stroke="#222" stroke-width="0.16">0.50</text>
<line x1="333.90" y1="491.90" x2="336.90" y2="491.90" stroke="#1e1e1e" stroke-width="0.9"/>
<text x="330.83" y="494.70" font-size="8.0" fill="#222" text-anchor="end" textLength="15.63" lengthAdjust="spacingAndGlyphs" stroke="#222" stroke-width="0.16">0.25</text>
<line x1="333.90" y1="500.00" x2="336.90" y2="500.00" stroke="#1e1e1e" stroke-width="0.9"/>
<text x="330.81" y="502.80" font-size="8.0" fill="#222" text-anchor="end" textLength="15.61" lengthAdjust="spacingAndGlyphs" stroke="#222" stroke-width="0.16">0.00</text>
<line x1="333.90" y1="508.10" x2="336.90" y2="508.10" stroke="#1e1e1e" stroke-width="0.9"/>
<text x="330.84" y="510.90" font-size="8.0" fill="#222" text-anchor="end" textLength="21.13" lengthAdjust="spacingAndGlyphs" stroke="#222" stroke-width="0.16">−0.25</text>
<line x1="377.40" y1="516.20" x2="377.40" y2="519.20" stroke="#1e1e1e" stroke-width="0.9"/>
<text x="377.35" y="531.20" font-size="8.8" fill="#222" text-anchor="middle" textLength="20.11" lengthAdjust="spacingAndGlyphs" stroke="#222" stroke-width="0.16">2500</text>
<line x1="417.60" y1="516.20" x2="417.60" y2="519.20" stroke="#1e1e1e" stroke-width="0.9"/>
<text x="417.60" y="531.20" font-size="8.8" fill="#222" text-anchor="middle" textLength="20.02" lengthAdjust="spacingAndGlyphs" stroke="#222" stroke-width="0.16">5000</text>
<line x1="457.50" y1="516.20" x2="457.50" y2="519.20" stroke="#1e1e1e" stroke-width="0.9"/>
<text x="457.45" y="531.20" font-size="8.8" fill="#222" text-anchor="middle" textLength="20.11" lengthAdjust="spacingAndGlyphs" stroke="#222" stroke-width="0.16">7500</text>
<text x="375.97" y="543.50" font-size="9.7" fill="#1e1e1e" font-weight="bold" textLength="74.99" lengthAdjust="spacingAndGlyphs" stroke="#1e1e1e" stroke-width="0.16">Rank in ordered dataset</text>
<text x="340.77" y="489.20" font-size="8.4" fill="#7ea0d6" textLength="33.79" lengthAdjust="spacingAndGlyphs" stroke="#7ea0d6" stroke-width="0.16">GPR-OE</text>
<text x="461.96" y="491.00" font-size="8.4" fill="#444" textLength="28.09" lengthAdjust="spacingAndGlyphs" stroke="#444" stroke-width="0.16">Control</text>
<text x="289.20" y="452.30" font-size="8.3" fill="#1a1a1a" textLength="28.08" lengthAdjust="spacingAndGlyphs" transform="rotate(-90 289.20 452.30)" stroke="#1a1a1a" stroke-width="0.3">Running</text>
<text x="302.80" y="467.50" font-size="8.3" fill="#1a1a1a" textLength="54.50" lengthAdjust="spacingAndGlyphs" transform="rotate(-90 302.80 467.50)" stroke="#1a1a1a" stroke-width="0.3">enrichment score</text>
<text x="291.40" y="514.45" font-size="8.3" fill="#1a1a1a" textLength="33.78" lengthAdjust="spacingAndGlyphs" transform="rotate(-90 291.40 514.45)" stroke="#1a1a1a" stroke-width="0.3">Ranked list</text>
<text x="301.80" y="507.19" font-size="8.3" fill="#1a1a1a" textLength="20.37" lengthAdjust="spacingAndGlyphs" transform="rotate(-90 301.80 507.19)" stroke="#1a1a1a" stroke-width="0.3">metric</text>
</svg>
</body></html>
